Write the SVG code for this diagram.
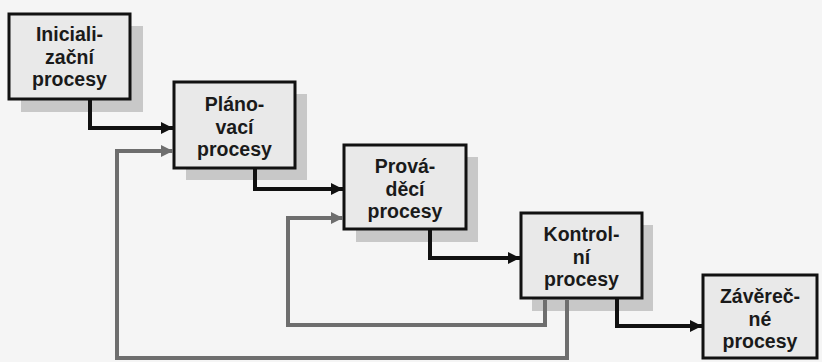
<svg xmlns="http://www.w3.org/2000/svg" width="822" height="362" viewBox="0 0 822 362">
  <defs>
    <marker id="head-black" viewBox="0 0 12 12" refX="12" refY="6" markerWidth="12" markerHeight="12" markerUnits="userSpaceOnUse" orient="auto">
      <path d="M0,0 L12,6 L0,12 Z" fill="#111"/>
    </marker>
    <marker id="head-gray" viewBox="0 0 12 12" refX="12" refY="6" markerWidth="12" markerHeight="12" markerUnits="userSpaceOnUse" orient="auto">
      <path d="M0,0 L12,6 L0,12 Z" fill="#6e6e6e"/>
    </marker>
  </defs>
  <style>
    .shadow { fill: #c8c8c8; }
    .box { fill: #e9e9e9; stroke: #111; stroke-width: 3; }
    .label { font-family: "Liberation Sans", Arial, sans-serif; font-weight: bold; font-size: 19.5px; fill: #1a1a1a; text-anchor: middle; }
    .flow { fill: none; stroke: #111; stroke-width: 4; marker-end: url(#head-black); }
    .feedback { fill: none; stroke: #6e6e6e; stroke-width: 4; marker-end: url(#head-gray); }
  </style>

  <rect x="0" y="0" width="822" height="362" fill="#f5f5f5"/>

  <g id="inicializacni">
    <rect class="shadow" x="21" y="26" width="122" height="86"/>
    <rect class="box" x="9" y="14" width="121" height="85"/>
    <text class="label" x="69.5" y="41">Iniciali-</text>
    <text class="label" x="69.5" y="63.5">zační</text>
    <text class="label" x="69.5" y="86">procesy</text>
  </g>

  <g id="planovaci">
    <rect class="shadow" x="186" y="94" width="121" height="86"/>
    <rect class="box" x="174" y="82" width="121" height="86"/>
    <text class="label" x="234.5" y="111">Pláno-</text>
    <text class="label" x="234.5" y="133.5">vací</text>
    <text class="label" x="234.5" y="156">procesy</text>
  </g>

  <g id="provadeci">
    <rect class="shadow" x="356" y="157" width="122" height="85"/>
    <rect class="box" x="344" y="145" width="122" height="84"/>
    <text class="label" x="405" y="173">Prová-</text>
    <text class="label" x="405" y="195.5">děcí</text>
    <text class="label" x="405" y="218">procesy</text>
  </g>

  <g id="kontrolni">
    <rect class="shadow" x="532" y="225" width="121" height="86"/>
    <rect class="box" x="521" y="213" width="121" height="85"/>
    <text class="label" x="581.5" y="241">Kontrol-</text>
    <text class="label" x="581.5" y="263.5">ní</text>
    <text class="label" x="581.5" y="286">procesy</text>
  </g>

  <g id="zaverecne">
    <rect class="box" x="703" y="275" width="114" height="83"/>
    <text class="label" x="760" y="303">Závěreč-</text>
    <text class="label" x="760" y="325.5">né</text>
    <text class="label" x="760" y="348">procesy</text>
  </g>

  <g id="connectors">
    <!-- main forward flow -->
    <path class="flow" d="M90,100 V128 H173"/>
    <path class="flow" d="M255,169 V189 H343"/>
    <path class="flow" d="M430,230 V258 H520"/>
    <path class="flow" d="M617,299 V326 H702"/>
    <!-- feedback from control back to execution and planning -->
    <path class="feedback" d="M545,299 V325 H288 V218 H343"/>
    <path class="feedback" d="M567,299 V358 H117 V151 H173"/>
  </g>
</svg>
